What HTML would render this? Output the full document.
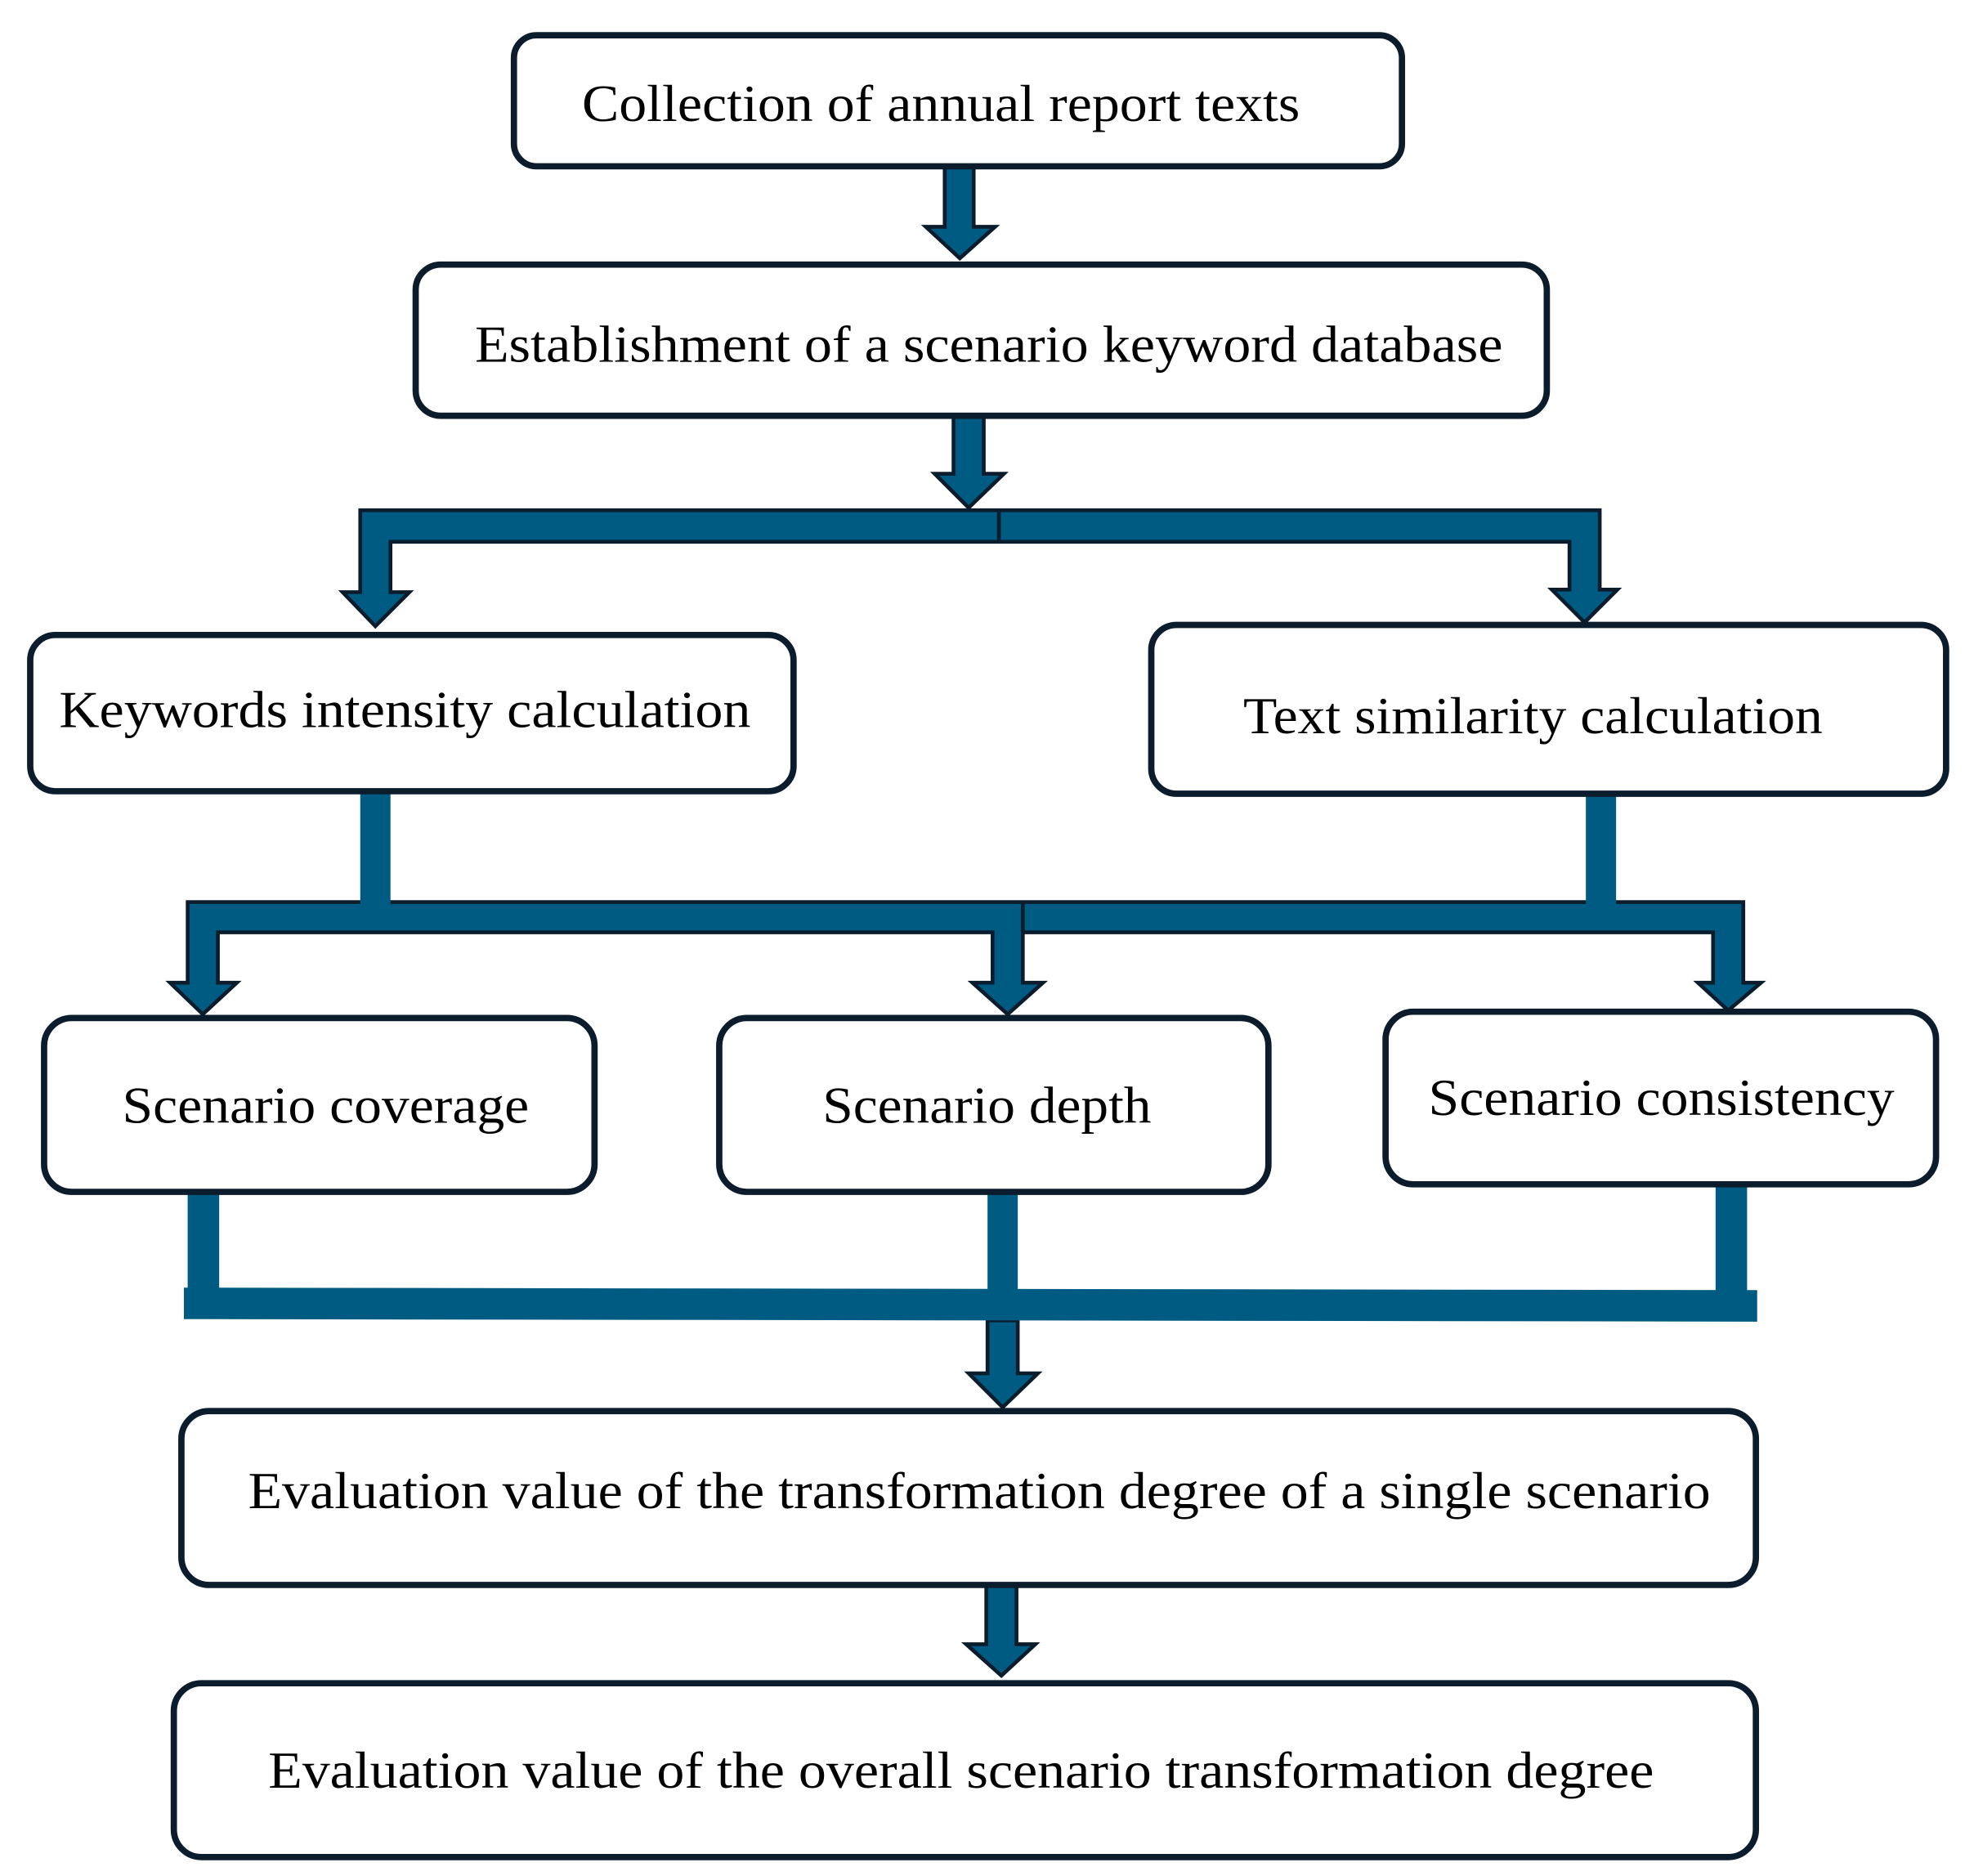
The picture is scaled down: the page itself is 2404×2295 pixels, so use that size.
<!DOCTYPE html>
<html><head><meta charset="utf-8"><style>
html,body{margin:0;padding:0;background:#fff;}
svg{display:block;}
text{font-family:"Liberation Serif",serif;fill:#000;}
</style></head><body>
<svg width="2404" height="2295" viewBox="0 0 1560 1489" preserveAspectRatio="none" xmlns="http://www.w3.org/2000/svg">
<g fill="#005b82" stroke="#0b1c2c" stroke-width="3" stroke-linejoin="miter">
<!-- arrow 1 -->
<polygon points="750,132 773,132 773,180 790,180 762,205 735,180 750,180"/>
<!-- arrow 2 -->
<polygon points="757,330 781,330 781,376 797,376 769,403 742,376 757,376"/>
<!-- branch bar top -->
<polygon points="286,405 1270,405 1270,468 1284,468 1258,494 1232,468 1246,468 1246,430 310,430 310,470 325,470 298,497 272,470 286,470"/>
<line x1="793" y1="405" x2="793" y2="430"/>
<!-- bar 2 -->
<polygon points="149,716 1384,716 1384,780 1398,780 1372,802 1348,780 1360,780 1360,740 812,740 812,780 828,780 800,805 772,780 788,780 788,740 173,740 173,780 188,780 161,805 135,780 149,780"/>
<line x1="812" y1="716" x2="812" y2="740"/>
<!-- arrows from bar3 -->
<polygon points="784,1048 808,1048 808,1090 824,1090 796,1117 769,1090 784,1090"/>
<polygon points="783,1258 807,1258 807,1305 822,1305 795,1330 767,1305 783,1305"/>
</g>
<g fill="#005b82">
<rect x="286" y="628" width="24" height="90"/>
<rect x="1259" y="630" width="24" height="88"/>
<rect x="149" y="946" width="25" height="80"/>
<rect x="784" y="946" width="24" height="80"/>
<rect x="1362" y="940" width="25" height="86"/>
<polygon points="146,1022 1395,1024 1395,1049 146,1047"/>
</g>
<g fill="#fff" stroke="#0b1c2c" stroke-width="5">
<rect x="408" y="28" width="705" height="104" rx="18"/>
<rect x="330" y="210" width="898" height="120" rx="20"/>
<rect x="24" y="504" width="606" height="124" rx="20"/>
<rect x="914" y="496" width="631" height="134" rx="20"/>
<rect x="35" y="808" width="437" height="138" rx="22"/>
<rect x="571" y="808" width="436" height="138" rx="22"/>
<rect x="1100" y="803" width="437" height="137" rx="22"/>
<rect x="144" y="1120" width="1250" height="138" rx="22"/>
<rect x="138" y="1336" width="1256" height="138" rx="22"/>
</g>
<g font-size="41">
<text x="462" y="96" textLength="570" lengthAdjust="spacingAndGlyphs">Collection of annual report texts</text>
<text x="377" y="287" textLength="816" lengthAdjust="spacingAndGlyphs">Establishment of a scenario keyword database</text>
<text x="47" y="577" textLength="549" lengthAdjust="spacingAndGlyphs">Keywords intensity calculation</text>
<text x="987" y="582" textLength="460" lengthAdjust="spacingAndGlyphs">Text similarity calculation</text>
<text x="97" y="891" textLength="323" lengthAdjust="spacingAndGlyphs">Scenario coverage</text>
<text x="653" y="891" textLength="261" lengthAdjust="spacingAndGlyphs">Scenario depth</text>
<text x="1134" y="885" textLength="370" lengthAdjust="spacingAndGlyphs">Scenario consistency</text>
<text x="197" y="1197" textLength="1161" lengthAdjust="spacingAndGlyphs">Evaluation value of the transformation degree of a single scenario</text>
<text x="213" y="1419" textLength="1100" lengthAdjust="spacingAndGlyphs">Evaluation value of the overall scenario transformation degree</text>
</g>
</svg>
</body></html>
